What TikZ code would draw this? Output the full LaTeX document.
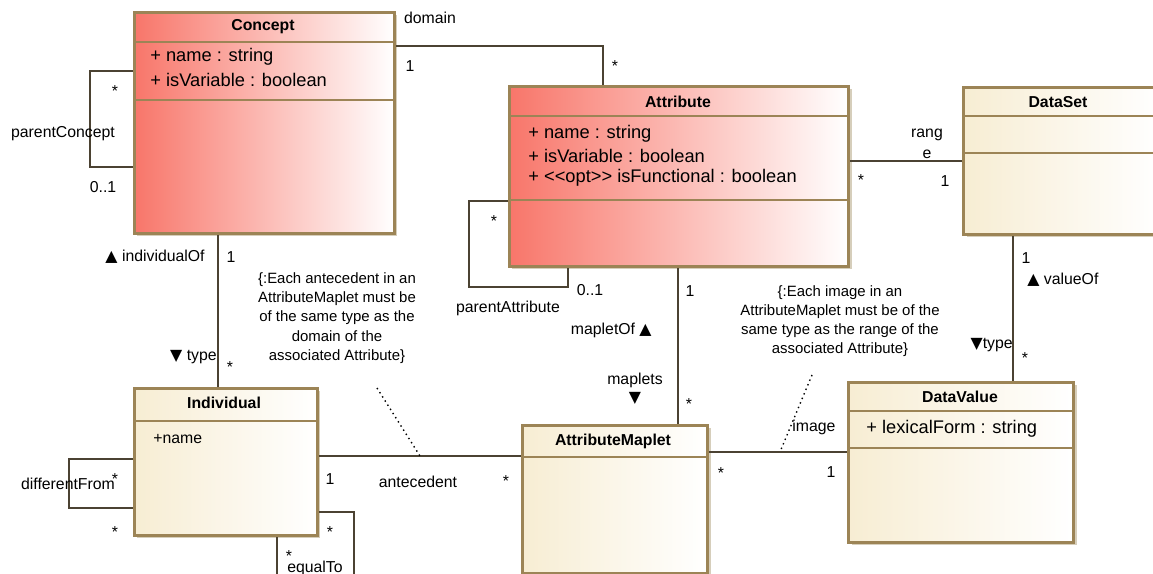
\documentclass[tikz,border=0pt]{standalone}
\usepackage{fontspec}
\setmainfont{Liberation Sans}
\newfontfamily\symfont{DejaVu Sans}
\usetikzlibrary{shadows}

\definecolor{boxline}{RGB}{156,132,86}
\definecolor{redleft}{RGB}{248,118,106}
\definecolor{yellowleft}{RGB}{247,237,211}
\definecolor{shadowc}{RGB}{214,206,187}
\definecolor{linkc}{RGB}{75,66,50}

\newcommand{\up}{{\symfont\fontsize{9}{10}\selectfont ▲}}
\newcommand{\down}{{\symfont\fontsize{9}{10}\selectfont ▼}}

\begin{document}
\begin{tikzpicture}[x=0.02cm, y=-0.02cm,
    classbox/.style={draw=boxline, line width=1.7pt, inner sep=0pt, anchor=north west,
        drop shadow={shadow xshift=0.06cm, shadow yshift=-0.06cm, fill=shadowc, opacity=1}},
    redbox/.style={classbox, left color=redleft, right color=white},
    yellowbox/.style={classbox, left color=yellowleft, right color=white},
    sepline/.style={draw=boxline, line width=1.7pt},
    classname/.style={font=\bfseries\fontsize{9}{11}\selectfont, inner sep=0pt},
    member/.style={font=\fontsize{10.4}{12}\selectfont, anchor=west, inner sep=0pt},
    lbl/.style={font=\fontsize{9}{11}\selectfont, inner sep=0pt},
    note/.style={font=\fontsize{8.5}{10.9}\selectfont, align=center, inner sep=0pt},
    assoc/.style={draw=linkc, line width=1.1pt},
    anchorline/.style={draw=black, line width=0.8pt, dotted}]

    \useasboundingbox (0,0) rectangle (1153,574);
    \clip (0,0) rectangle (1153,574);

    % classes
    \node[redbox, minimum width=260*0.02cm, minimum height=221*0.02cm] (concept) at (133,11) {};
    \node[classname] (concepttitle) at (263,27) {Concept};
    \draw[sepline] (concept.west |- 0,42) -- (concept.east |- 0,42);
    \draw[sepline] (concept.west |- 0,100) -- (concept.east |- 0,100);
    \node[member] (conceptname) at (150,57) {+ name : string};
    \node[member] (conceptvar) at (150,80) {+ isVariable : boolean};

    \node[redbox, minimum width=339*0.02cm, minimum height=180*0.02cm] (attribute) at (508,85) {};
    \node[classname] (attributetitle) at (678,102) {Attribute};
    \draw[sepline] (attribute.west |- 0,116) -- (attribute.east |- 0,116);
    \draw[sepline] (attribute.west |- 0,200) -- (attribute.east |- 0,200);
    \node[member] (attributename) at (528,134) {+ name : string};
    \node[member] (attributevar) at (528,156) {+ isVariable : boolean};
    \node[member] (attributefunc) at (528,178) {+ <{}<opt>{}> isFunctional : boolean};

    \node[yellowbox, minimum width=196*0.02cm, minimum height=147*0.02cm] (dataset) at (962,86) {};
    \node[classname] (datasettitle) at (1058,102) {DataSet};
    \draw[sepline] (dataset.west |- 0,116) -- (dataset.east |- 0,116);
    \draw[sepline] (dataset.west |- 0,153) -- (dataset.east |- 0,153);

    \node[yellowbox, minimum width=183*0.02cm, minimum height=147*0.02cm] (individual) at (133,387) {};
    \node[classname] (individualtitle) at (224,403) {Individual};
    \draw[sepline] (individual.west |- 0,421) -- (individual.east |- 0,421);
    \node[member, font=\fontsize{9}{11}\selectfont] (individualname) at (153,439) {+name};

    \node[yellowbox, minimum width=185*0.02cm, minimum height=148*0.02cm] (maplet) at (521,424) {};
    \node[classname] (maplettitle) at (613,441) {AttributeMaplet};
    \draw[sepline] (maplet.west |- 0,457) -- (maplet.east |- 0,457);

    \node[yellowbox, minimum width=225*0.02cm, minimum height=160*0.02cm] (datavalue) at (847,381) {};
    \node[classname] (datavaluetitle) at (960,397) {DataValue};
    \draw[sepline] (datavalue.west |- 0,411) -- (datavalue.east |- 0,411);
    \draw[sepline] (datavalue.west |- 0,448) -- (datavalue.east |- 0,448);
    \node[member] (datavalueform) at (866,429) {+ lexicalForm : string};

    % associations
    \coordinate (dombend) at (603,46);
    \draw[assoc] (concept.east |- dombend) -- (dombend) -- (attribute.north -| dombend);
    \node[lbl] (domainlbl) at (430,18) {domain};
    \node[lbl] (dommult1) at (410,66) {1};
    \node[lbl] (dommult2) at (615,66) {*};

    \coordinate (pc1) at (90,71);
    \coordinate (pc2) at (90,167);
    \draw[assoc] (concept.west |- pc1) -- (pc1) -- (pc2) -- (concept.west |- pc2);
    \node[lbl] (pcmult1) at (115,91) {*};
    \node[lbl] (pclbl) at (63,134) {parentConcept};
    \node[lbl] (pcmult2) at (103,187) {0..1};

    \coordinate (rangey) at (900,161);
    \draw[assoc] (attribute.east |- rangey) -- (dataset.west |- rangey);
    \node[lbl] (rangelbl) at (927,135) {rang};
    \node[lbl] (rangelbl2) at (927,154) {e};
    \node[lbl] (rangemult1) at (861,180) {*};
    \node[lbl] (rangemult2) at (945,181) {1};

    \coordinate (pa1) at (469,201);
    \coordinate (pa2) at (469,287);
    \coordinate (pa3) at (568,287);
    \draw[assoc] (attribute.west |- pa1) -- (pa1) -- (pa2) -- (pa3) -- (attribute.south -| pa3);
    \node[lbl] (pamult1) at (494,221) {*};
    \node[lbl] (palbl) at (508,308) {parentAttribute};
    \node[lbl] (pamult2) at (590,290) {0..1};

    \coordinate (indx) at (218,300);
    \draw[assoc] (concept.south -| indx) -- (individual.north -| indx);
    \node[lbl, anchor=east] (indlbl1) at (205,257) {\up\ individualOf};
    \node[lbl] (indmult1) at (231,257) {1};
    \node[lbl, anchor=east] (indlbl2) at (217,357) {\down\ type};
    \node[lbl] (indmult2) at (230,367) {*};

    \coordinate (mapx) at (678,350);
    \draw[assoc] (attribute.south -| mapx) -- (maplet.north -| mapx);
    \node[lbl] (mapmult1) at (690,291) {1};
    \node[lbl, anchor=east] (maplbl1) at (652,330) {mapletOf \up};
    \node[lbl] (maplbl2) at (635,380) {maplets};
    \node[lbl] (maplbl3) at (635,398) {\down};
    \node[lbl] (mapmult2) at (689,404) {*};

    \coordinate (valx) at (1013,300);
    \draw[assoc] (dataset.south -| valx) -- (datavalue.north -| valx);
    \node[lbl] (valmult1) at (1026,258) {1};
    \node[lbl, anchor=west] (vallbl1) at (1027,280) {\up\ valueOf};
    \node[lbl, anchor=east] (vallbl2) at (1013,345) {\down type};
    \node[lbl] (valmult2) at (1025,358) {*};

    \coordinate (antey) at (420,456);
    \draw[assoc] (individual.east |- antey) -- (maplet.west |- antey);
    \node[lbl] (antemult1) at (330,479) {1};
    \node[lbl] (antelbl) at (418,482) {antecedent};
    \node[lbl] (antemult2) at (506,481) {*};

    \coordinate (imgy) at (780,452);
    \draw[assoc] (maplet.east |- imgy) -- (datavalue.west |- imgy);
    \node[lbl] (imglbl) at (814,427) {image};
    \node[lbl] (imgmult1) at (721,473) {*};
    \node[lbl] (imgmult2) at (831,472) {1};

    \coordinate (df1) at (69,459);
    \coordinate (df2) at (69,508);
    \draw[assoc] (individual.west |- df1) -- (df1) -- (df2) -- (individual.west |- df2);
    \node[lbl] (dflbl) at (68,484) {differentFrom};
    \node[lbl] (dfmult1) at (115,479) {*};
    \node[lbl] (dfmult2) at (115,532) {*};

    \coordinate (eq1) at (354,512);
    \coordinate (eq2) at (354,600);
    \coordinate (eq3) at (277,600);
    \draw[assoc] (individual.east |- eq1) -- (eq1) -- (eq2) -- (eq3) -- (individual.south -| eq3);
    \node[lbl] (eqmult1) at (330,532) {*};
    \node[lbl] (eqmult2) at (289,556) {*};
    \node[lbl] (eqlbl) at (315,568) {equalTo};

    % constraints
    \node[note] (antenote) at (337,318) {\{:Each antecedent in an\\AttributeMaplet must be\\of the same type as the\\domain of the\\associated Attribute\}};
    \coordinate (antenotefoot) at (377,388);
    \draw[anchorline] (antenotefoot) -- (antey);

    \node[note] (imgnote) at (840,321) {\{:Each image in an\\AttributeMaplet must be of the\\same type as the range of the\\associated Attribute\}};
    \coordinate (imgnotefoot) at (812,375);
    \draw[anchorline] (imgnotefoot) -- (imgy);
\end{tikzpicture}
\end{document}
